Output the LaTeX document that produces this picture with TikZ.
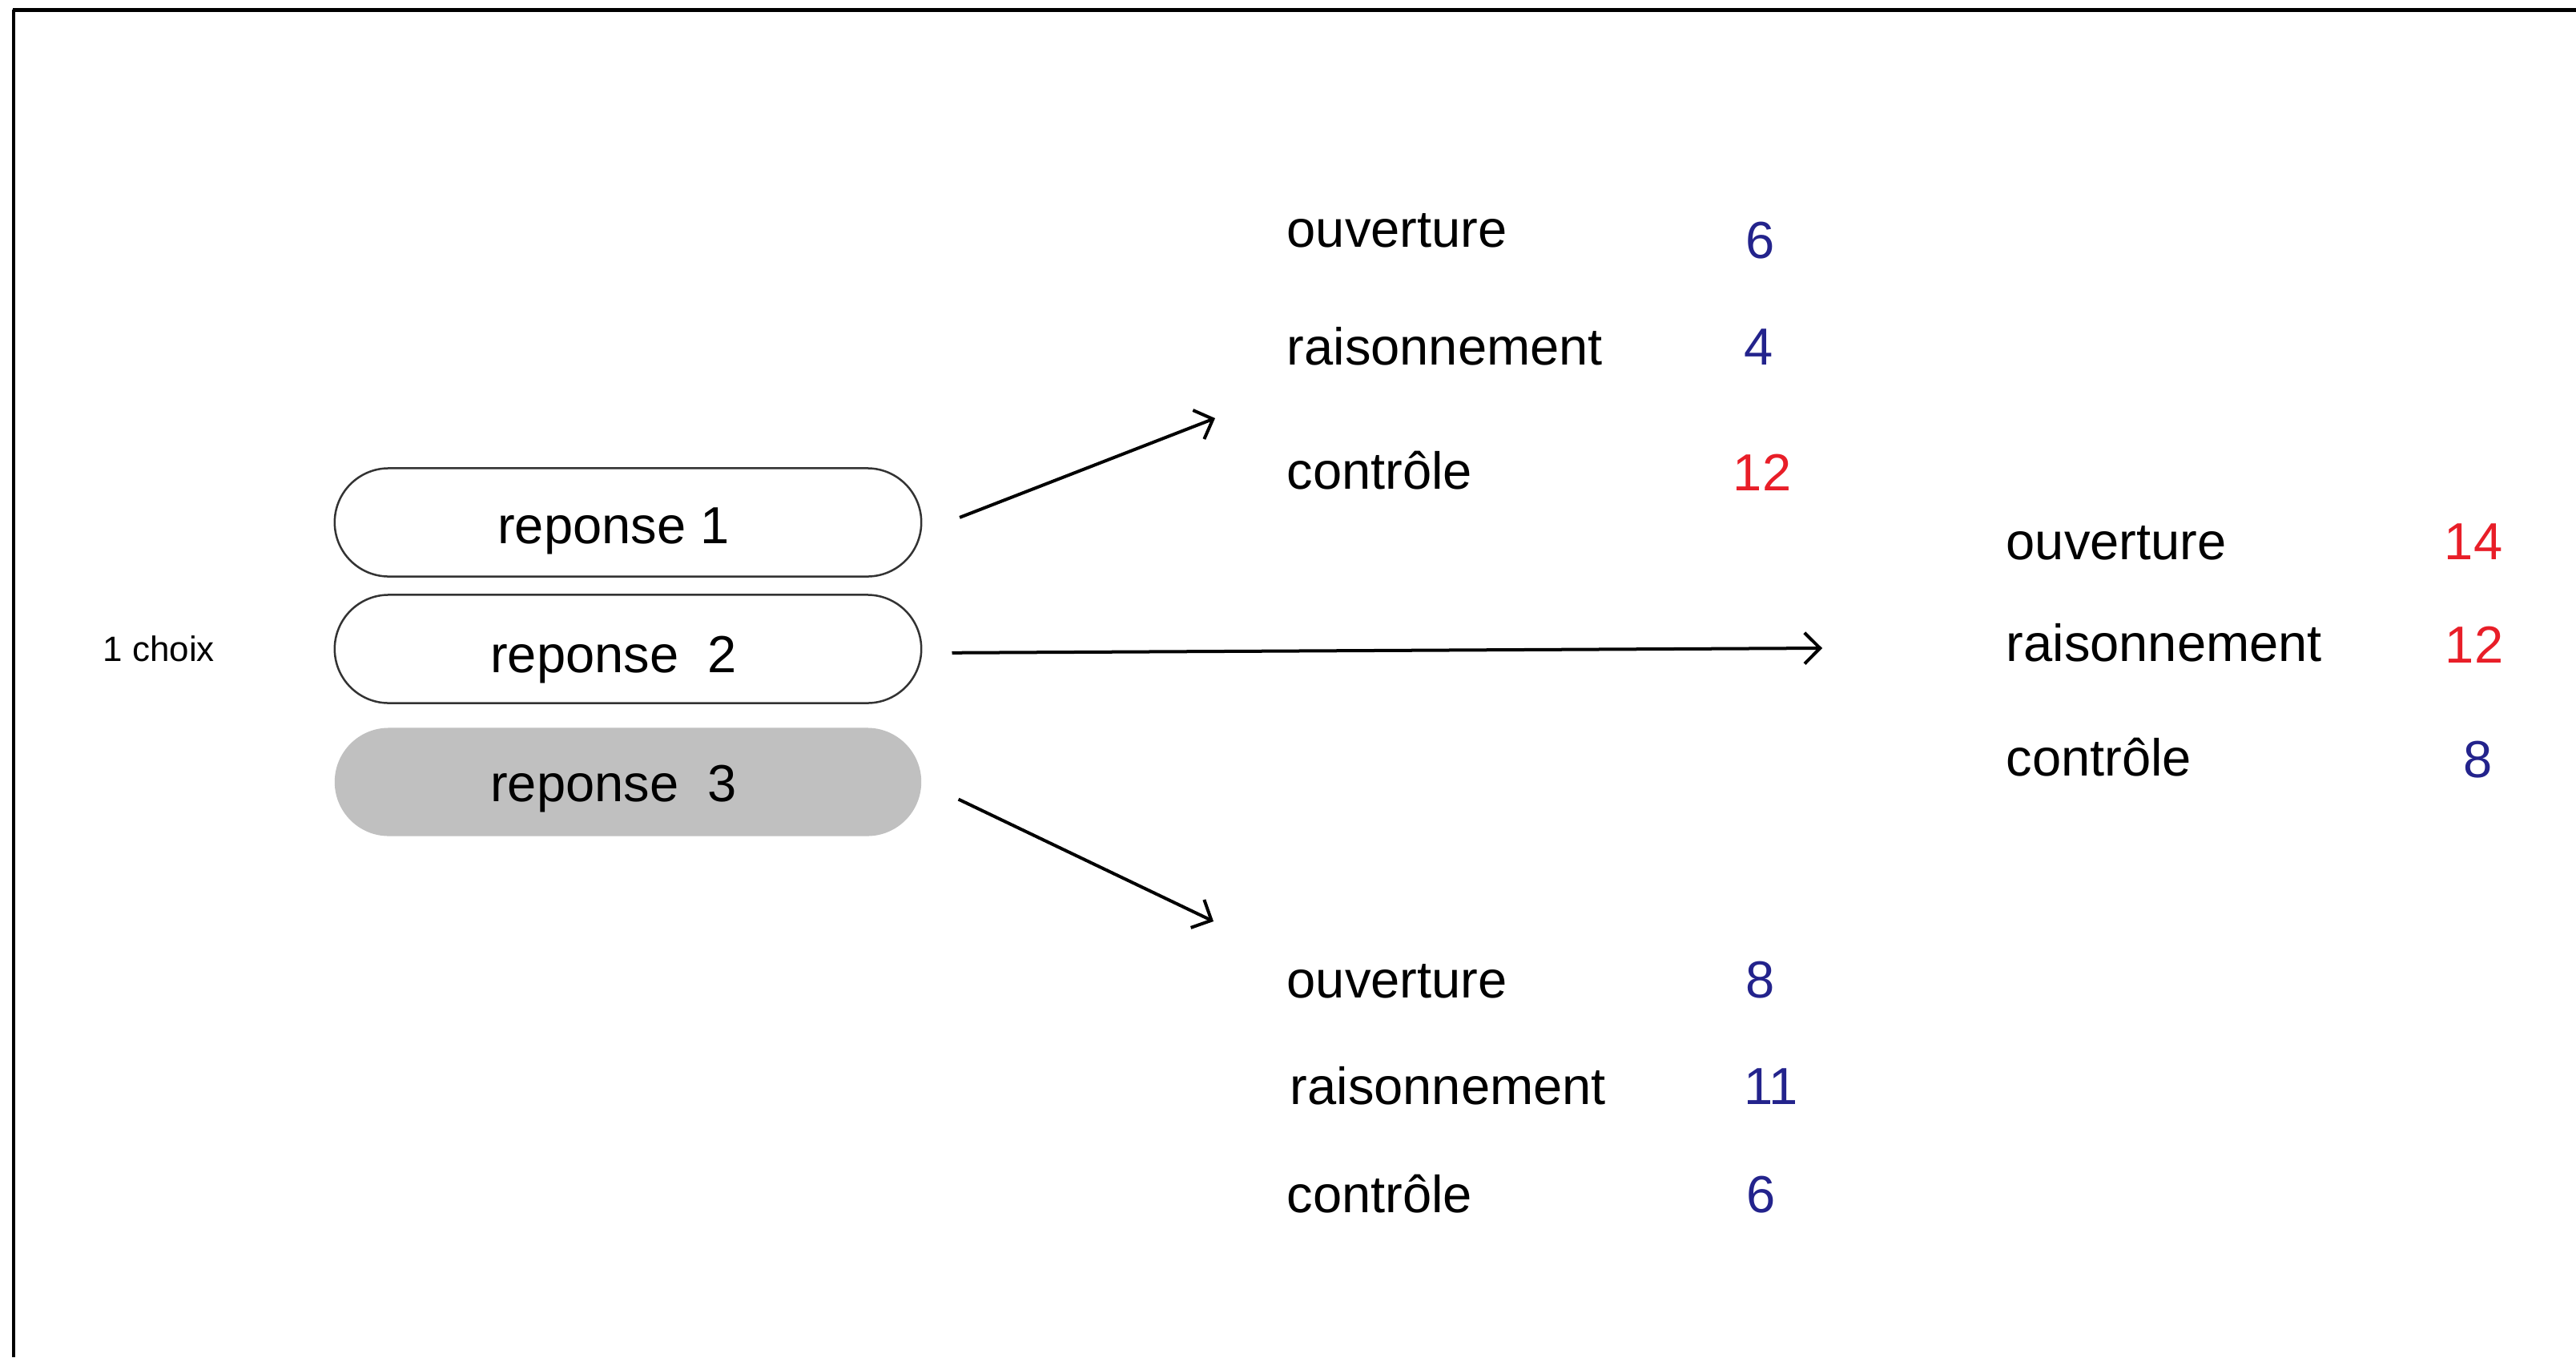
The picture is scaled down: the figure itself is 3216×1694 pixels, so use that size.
\documentclass[tikz,border=0pt]{standalone}
\usepackage{fontspec}
\setmainfont{Liberation Sans}
\usepackage{xcolor}
\usetikzlibrary{arrows,arrows.meta,shapes,positioning}
\definecolor{bleu}{RGB}{35,35,140}
\definecolor{rouge}{RGB}{232,30,40}
\definecolor{gris}{RGB}{192,192,192}

\begin{document}
\begin{tikzpicture}[x=0.01cm,y=-0.01cm]
      \tikzstyle{every node}=[inner sep=0pt, font=\fontsize{18.5}{22}\selectfont]
      \tikzstyle{reponse}=[rounded rectangle, draw=black!80, line width=0.025cm, minimum width=7.32cm, minimum height=1.35cm]
      \tikzstyle{texte}=[xshift=-0.18cm, yshift=-0.11cm]
      \tikzstyle{critere}=[anchor=base west]
      \tikzstyle{note}=[anchor=base]
      \tikzstyle{fleche}=[->, >={Straight Barb[length=5.5pt,width=11pt]}, line width=0.04cm, shorten <=0.5cm]
      \useasboundingbox (0,0) rectangle (3216,1694);
      % cadre
      \draw[line width=0.05cm] (16,12.5) -- (3216,12.5);
      \draw[line width=0.03cm] (17,12) -- (17,1694);
      % reponses
      \node[font=\fontsize{12.5}{15}\selectfont, anchor=base west] (choix) at (128,825) {1 choix};
      \node[reponse] (R1) at (784,652) {};
      \node[reponse] (R2) at (784,810) {};
      \node[reponse, fill=gris, draw=none] (R3) at (784,976) {};
      \node[texte] (L1) at (R1.center) {reponse 1};
      \node[texte, yshift=-0.03cm] (L2) at (R2.center) {reponse\ \ 2};
      \node[texte, yshift=0.02cm] (L3) at (R3.center) {reponse\ \ 3};
      % premier choix
      \node[critere] (O1) at (1606,308) {ouverture};
      \node[critere] (S1) at (1606,455) {raisonnement};
      \node[critere] (C1) at (1606,610) {contrôle};
      \node[note, text=bleu] (nO1) at (2198,322) {6};
      \node[note, text=bleu] (nS1) at (2196,455) {4};
      \node[note, text=rouge] (nC1) at (2200,612) {12};
      % deuxieme choix
      \node[critere] (O2) at (2504,698) {ouverture};
      \node[critere] (S2) at (2504,825) {raisonnement};
      \node[critere] (C2) at (2504,968) {contrôle};
      \node[note, text=rouge] (nO2) at (3088,698) {14};
      \node[note, text=rouge] (nS2) at (3089,827) {12};
      \node[note, text=bleu] (nC2) at (3094,970) {8};
      % troisieme choix
      \node[critere] (O3) at (1606,1245) {ouverture};
      \node[critere] (S3) at (1610,1378) {raisonnement};
      \node[critere] (C3) at (1606,1513) {contrôle};
      \node[note, text=bleu] (nO3) at (2198,1245) {8};
      \node[note, text=bleu] (nS3) at (2211,1378) {11};
      \node[note, text=bleu] (nC3) at (2199,1513) {6};
      % fleches
      \coordinate (T1) at (1517,522);
      \coordinate (T2) at (2275,809);
      \coordinate (T3) at (1515,1150);
      \draw[fleche] ([yshift=-0.12cm]R1.east) -- (T1);
      \draw[fleche, shorten <=0.37cm] ([yshift=-0.05cm]R2.east) -- (T2);
      \draw[fleche] (R3.east) -- (T3);
      %    \draw[fleche] (R1) -- (R2);
    \end{tikzpicture}
\end{document}
